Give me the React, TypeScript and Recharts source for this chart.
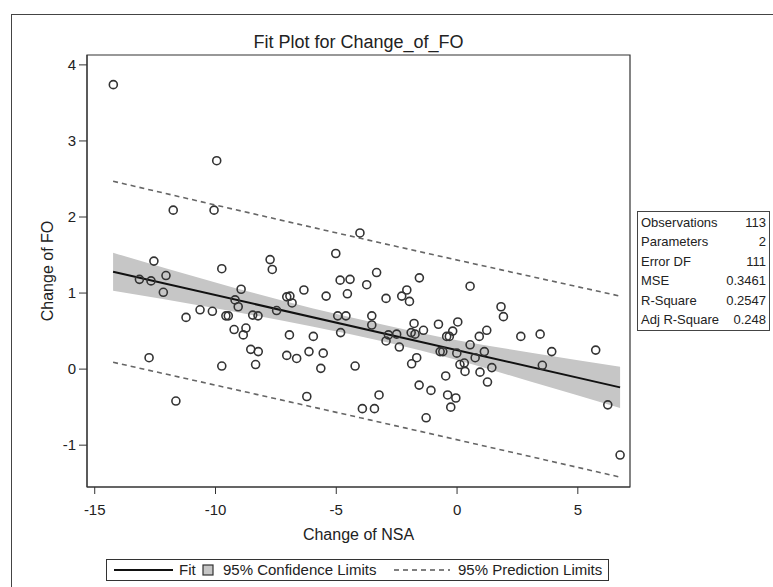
import { ComposedChart, XAxis, YAxis, Scatter, Line, Area, ReferenceArea } from "recharts"

// observations (Change of NSA, Change of FO)
const nsaChange = [
	-14.23, -9.95, -11.75, -10.06, -12.55, -7.74, -7.65, -9.74, -12.05, -13.15,
	-12.67, -12.16, -8.94, -9.19, -9.06, -7.05, -6.92, -6.83, -7.47, -10.64,
	-10.13, -11.22, -9.57, -9.47, -8.46, -8.24, -9.23, -8.74, -8.85, -6.94,
	-4.02, -5.02, -3.33, -1.56, -4.84, -4.43, -3.74, -6.34, -2.08, -4.54,
	-5.42, -2.94, -2.29, -1.97, -4.94, -4.6, -3.53, -3.53, -1.78, -0.77,
	-1.39, -1.9, -4.82, -5.95, -2.84, -2.5, -1.74, -0.43, 0.54, 1.82,
	1.92, 0.03, -0.18, -0.32, 1.23, 0.92, 2.64, 3.44, -2.94, -2.39,
	-0.7, -0.59, -0.01, 0.54, 0.75, 1.13, 0.12, 0.3, 0.33, 0.95,
	1.44, 1.26, -6.13, -5.54, -5.64, -6.64, -4.22, -1.88, -1.67, -0.47,
	-1.57, -1.08, -3.23, -6.22, -0.39, -0.05, -0.26, -3.92, -3.42, -1.28,
	-8.54, -8.23, -7.05, -12.75, -9.74, -8.34, -11.64, 3.92, 5.74, 3.53,
	6.24, 6.75,
]
const foChange = [
	3.74, 2.74, 2.09, 2.09, 1.42, 1.44, 1.31, 1.32, 1.23, 1.18,
	1.16, 1.01, 1.05, 0.91, 0.82, 0.95, 0.96, 0.87, 0.77, 0.78,
	0.76, 0.68, 0.7, 0.7, 0.71, 0.7, 0.52, 0.54, 0.45, 0.45,
	1.79, 1.52, 1.27, 1.2, 1.17, 1.18, 1.11, 1.04, 1.04, 0.99,
	0.96, 0.93, 0.96, 0.89, 0.7, 0.7, 0.7, 0.58, 0.6, 0.59,
	0.51, 0.48, 0.48, 0.43, 0.45, 0.46, 0.46, 0.43, 1.09, 0.82,
	0.69, 0.62, 0.5, 0.43, 0.51, 0.43, 0.43, 0.46, 0.37, 0.29,
	0.23, 0.23, 0.21, 0.32, 0.15, 0.23, 0.06, 0.08, -0.03, -0.04,
	0.02, -0.17, 0.23, 0.21, 0.01, 0.14, 0.04, 0.07, 0.15, -0.09,
	-0.21, -0.28, -0.34, -0.36, -0.34, -0.38, -0.5, -0.52, -0.52, -0.64,
	0.26, 0.23, 0.18, 0.15, 0.04, 0.06, -0.42, 0.23, 0.25, 0.05,
	-0.47, -1.13,
]

// fitted line
const fitX = [-14.24, 6.75]
const fitY = [1.28, -0.24]

// 95% confidence band
const bandX = [-14.24, -10, -6, -3, 0, 3, 6.75]
const bandLow = [1.03, 0.8, 0.56, 0.36, 0.12, -0.16, -0.51]
const bandHigh = [1.53, 1.14, 0.8, 0.58, 0.38, 0.22, 0.03]

// 95% prediction limits
const predX = [-14.24, -4, 6.75]
const predUpper = [2.47, 1.72, 0.96]
const predLower = [0.09, -0.64, -1.42]

const xTicks = [-15, -10, -5, 0, 5]
const yTicks = [-1, 0, 1, 2, 3, 4]

const statLabels = ["Observations", "Parameters", "Error DF", "MSE", "R-Square", "Adj R-Square"]
const statValues = ["113", "2", "111", "0.3461", "0.2547", "0.248"]

const points = nsaChange.map((x, i) => ({ x, y: foChange[i] }))
const fitData = fitX.map((x, i) => ({ x, fit: fitY[i] }))
const bandData = bandX.map((x, i) => ({ x, band: [bandLow[i], bandHigh[i]] }))
const predData = predX.map((x, i) => ({ x, upper: predUpper[i], lower: predLower[i] }))

const font = '"Liberation Sans", Arial, sans-serif'
const ink = "#222"
const bandFill = "#c6c6c6"
const dash = "5 4"

const Circle = (props: any) => {
	const { cx, cy } = props
	if (cx == null || cy == null) return null
	return <circle cx={cx} cy={cy} r={4} fill="none" stroke="#333" strokeWidth={1.6} />
}

export default function App() {
	return (
		<div style={{ position: "absolute", left: 0, top: 0, width: 773, height: 587, overflow: "hidden", background: "#fff", fontFamily: font, color: ink }}>
			<div style={{ position: "absolute", left: 11, top: 14, width: 770, height: 600, border: "1px solid #444" }} />
			<div style={{ position: "absolute", left: 87, width: 543, top: 31, lineHeight: "22px", textAlign: "center", fontSize: 18 }}>Fit Plot for Change_of_FO</div>
			<div style={{ position: "absolute", left: 48, top: 271, width: 0, height: 0 }}>
				<div style={{ position: "absolute", transform: "translate(-50%, -50%) rotate(-90deg)", whiteSpace: "nowrap", fontSize: 16 }}>Change of FO</div>
			</div>
			<div style={{ position: "absolute", left: 87, width: 543, top: 526, lineHeight: "18px", textAlign: "center", fontSize: 16 }}>Change of NSA</div>

			<ComposedChart width={773} height={587} margin={{ top: 55, right: 143, bottom: 70, left: 57 }} style={{ position: "absolute", left: 0, top: 0 }}>
				<XAxis type="number" dataKey="x" domain={[-15.32, 7.16]} ticks={xTicks} allowDataOverflow height={30} tickSize={7} tickMargin={10} stroke="#333" tick={{ fontSize: 15, fill: ink, fontFamily: font }} />
				<YAxis type="number" domain={[-1.55, 4.13]} ticks={yTicks} allowDataOverflow width={30} tickSize={8} tickMargin={3} stroke="#333" tick={{ fontSize: 15, fill: ink, fontFamily: font }} />
				<Area data={bandData} dataKey="band" type="monotone" fill={bandFill} fillOpacity={1} stroke="none" isAnimationActive={false} />
				<Line data={predData} dataKey="upper" type="monotone" stroke="#666" strokeWidth={1.6} strokeDasharray={dash} dot={false} isAnimationActive={false} />
				<Line data={predData} dataKey="lower" type="monotone" stroke="#666" strokeWidth={1.6} strokeDasharray={dash} dot={false} isAnimationActive={false} />
				<Line data={fitData} dataKey="fit" stroke="#111" strokeWidth={2} dot={false} isAnimationActive={false} />
				<Scatter data={points} dataKey="y" shape={Circle} isAnimationActive={false} />
				<ReferenceArea x1={-15.32} x2={7.16} y1={-1.55} y2={4.13} fill="none" stroke="#333" strokeWidth={1.2} ifOverflow="visible" />
			</ComposedChart>

			<div style={{ position: "absolute", left: 637, top: 211, width: 133, border: "1px solid #444", fontSize: 13, padding: "1px 3px", boxSizing: "border-box" }}>
				{statLabels.map((label, i) => (
					<div key={label} style={{ display: "flex", justifyContent: "space-between", height: 19.4, lineHeight: "19.4px" }}>
						<span>{label}</span>
						<span>{statValues[i]}</span>
					</div>
				))}
			</div>

			<div style={{ position: "absolute", left: 106, top: 559, width: 503, height: 22, border: "1px solid #333", boxSizing: "border-box", fontSize: 15, whiteSpace: "nowrap" }}>
				<svg width={503} height={20} style={{ position: "absolute", left: 0, top: 0 }}>
					<line x1={7} y1={10} x2={66} y2={10} stroke="#111" strokeWidth={2} />
					<rect x={96} y={5} width={10} height={10} fill={bandFill} stroke="#333" strokeWidth={1.2} />
					<line x1={287} y1={10} x2={343} y2={10} stroke="#555" strokeWidth={1.6} strokeDasharray={dash} />
				</svg>
				<span style={{ position: "absolute", left: 72, top: 1, lineHeight: "18px" }}>Fit</span>
				<span style={{ position: "absolute", left: 116, top: 1, lineHeight: "18px" }}>95% Confidence Limits</span>
				<span style={{ position: "absolute", left: 351, top: 1, lineHeight: "18px" }}>95% Prediction Limits</span>
			</div>
		</div>
	)
}
